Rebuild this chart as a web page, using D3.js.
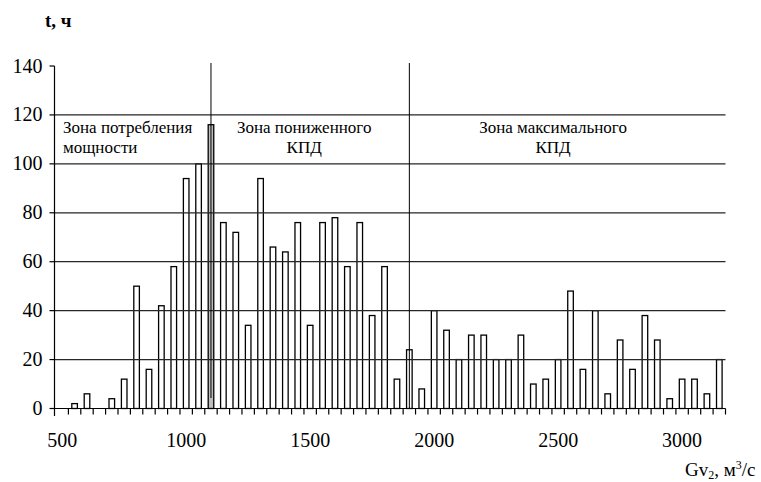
<!DOCTYPE html>
<html><head><meta charset="utf-8">
<script src="https://cdn.jsdelivr.net/npm/d3@7"></script>
</head>
<body style="margin:0">
<svg id="chart" width="761" height="482" style="font-family:Liberation Serif;display:block"></svg>
<script>
const categories = [500,550,600,650,700,750,800,850,900,950,1000,1050,1100,1150,1200,1250,1300,1350,1400,1450,1500,1550,1600,1650,1700,1750,1800,1850,1900,1950,2000,2050,2100,2150,2200,2250,2300,2350,2400,2450,2500,2550,2600,2650,2700,2750,2800,2850,2900,2950,3000,3050,3100,3150];
const hours = [0,2,6,0,4,12,50,16,42,58,94,100,116,76,72,34,94,66,64,76,34,76,78,58,76,38,58,12,24,8,40,32,20,30,30,20,20,30,10,12,20,48,16,40,6,28,16,38,28,4,12,12,6,20];
const yTicks = [0,20,40,60,80,100,120,140];
const yGrid = [20,40,60,80,100,120];
const xTickLabels = [500,1000,1500,2000,2500,3000];
const zoneBounds = [1100,1900];
const zoneLabels = [
  {lines:["Зона потребления","мощности"], anchor:"start"},
  {lines:["Зона пониженного","КПД"], anchor:"middle"},
  {lines:["Зона максимального","КПД"], anchor:"middle"}
];

const FONT = "Liberation Serif";
const svg = d3.select("#chart");
const axisX = 54.5, plotRight = 725.5;
const x = d3.scaleBand().domain(categories).range([56, plotRight]).paddingInner(0.55).paddingOuter(0.275);
const y = d3.scaleLinear().domain([0,140]).range([408.5, 66]);
const step = x.step();

// bars
svg.append("g").selectAll("rect").data(categories).join("rect")
  .attr("x", d => x(d))
  .attr("y", (d,i) => y(hours[i]))
  .attr("width", x.bandwidth())
  .attr("height", (d,i) => y(0) - y(hours[i]))
  .attr("fill", d => d === zoneBounds[0] ? "#bdbdbd" : "#fff")
  .attr("stroke", "#000").attr("stroke-width", 1.3);

// gridlines
svg.append("g").selectAll("line").data(yGrid).join("line")
  .attr("x1", axisX).attr("x2", plotRight)
  .attr("y1", d => y(d)).attr("y2", d => y(d))
  .attr("stroke", "#262626").attr("stroke-width", 1.3);

// zone boundaries
svg.append("g").selectAll("line").data(zoneBounds).join("line")
  .attr("x1", d => x(d) + x.bandwidth()/2).attr("x2", d => x(d) + x.bandwidth()/2)
  .attr("y1", 63).attr("y2", (d,i)=> i===0 ? 398 : y(0))
  .attr("stroke", "#000").attr("stroke-width", 1);

// y axis
const gy = svg.append("g").attr("transform", `translate(${axisX},0)`);
gy.append("line").attr("x1",0).attr("x2",0).attr("y1",y(140)).attr("y2",416).attr("stroke","#000").attr("stroke-width",1.2);
gy.selectAll("line.t").data(yTicks).join("line").attr("class","t")
  .attr("x1",-5).attr("x2",0).attr("y1",d=>y(d)).attr("y2",d=>y(d))
  .attr("stroke","#000").attr("stroke-width",1.2);
gy.selectAll("text").data(yTicks).join("text")
  .attr("x",-12).attr("y",d=>y(d)+6.5).attr("text-anchor","end")
  .style("font-family", FONT).style("font-size","20px").text(d=>d);

// x axis
const gx = svg.append("g");
gx.append("line").attr("x1", axisX).attr("x2", plotRight).attr("y1", y(0)).attr("y2", y(0)).attr("stroke","#000").attr("stroke-width",1.2);
const bounds = d3.range(1, categories.length + 1).map(k => 56 + step * k);
gx.selectAll("line.t").data(bounds).join("line").attr("class","t")
  .attr("x1", d => d).attr("x2", d => d).attr("y1", y(0)).attr("y2", y(0) + 6)
  .attr("stroke","#000").attr("stroke-width",1.2);
gx.selectAll("text").data(xTickLabels).join("text")
  .attr("x", d => x(d) + x.bandwidth()/2).attr("y", 447)
  .attr("text-anchor","middle")
  .style("font-family", FONT).style("font-size","20px").text(d => d);

// zone labels
const zoneX = [63, (x(zoneBounds[0]) + x(zoneBounds[1]))/2 + x.bandwidth()/2 - 6, (x(zoneBounds[1]) + plotRight)/2 - 13];
zoneLabels.forEach((z, i) => {
  z.lines.forEach((t, j) => {
    svg.append("text").attr("x", zoneX[i]).attr("y", 133 + j * 20)
      .attr("text-anchor", z.anchor)
      .style("font-family", FONT).style("font-size","17px").text(t);
  });
});

// axis titles
svg.append("text").attr("x", 45).attr("y", 27)
  .style("font-family", FONT).style("font-size","19px").style("font-weight","bold").text("t, ч");
const xt = svg.append("text").attr("x", 685).attr("y", 476)
  .style("font-family", FONT).style("font-size","19px");
xt.append("tspan").text("Gv");
xt.append("tspan").style("font-size","12px").attr("dy", 3).text("2");
xt.append("tspan").attr("dy", -3).text(", м");
xt.append("tspan").style("font-size","12px").attr("dy", -7).text("3");
xt.append("tspan").attr("dy", 7).text("/с");
</script>
</body></html>
